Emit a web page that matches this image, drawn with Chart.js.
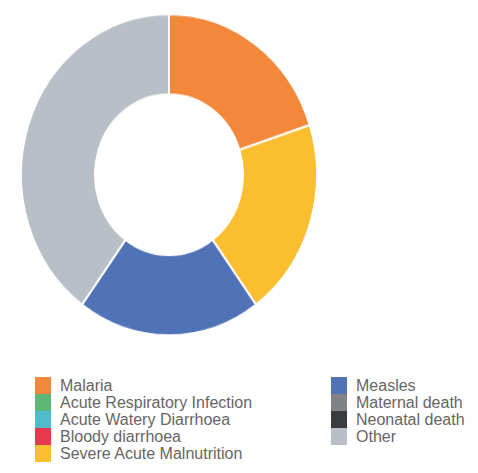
<!DOCTYPE html>
<html>
<head>
<meta charset="utf-8">
<script src="https://cdn.jsdelivr.net/npm/chart.js@4/dist/chart.umd.min.js"></script>
<style>
  html, body { margin: 0; padding: 0; background: #fff; width: 478px; height: 473px; overflow: hidden; }
  #wrap { position: absolute; left: 0; top: 0; width: 338px; height: 322px; transform: scaleY(1.085); transform-origin: 0 0; }
  .legcol { position: absolute; top: 377px; font-family: "Liberation Sans", Arial, sans-serif; font-size: 16px; color: #666; }
  .item { height: 17px; line-height: 17px; white-space: nowrap; position: relative; }
  .box { position: absolute; top: 0; width: 16px; height: 17px; }
  #colL { left: 35px; } #colR { left: 331px; }
  .txt { position: absolute; left: 25px; top: 0; }
</style>
</head>
<body>
<div id="wrap"><canvas id="c"></canvas></div>
<div id="colL" class="legcol"></div>
<div id="colR" class="legcol"></div>
<script>
const categories = ["Malaria", "Acute Respiratory Infection", "Acute Watery Diarrhoea", "Bloody diarrhoea", "Severe Acute Malnutrition", "Measles", "Maternal death", "Neonatal death", "Other"];
const values = [20, 0, 0, 0, 20, 20, 0, 0, 40];
const colors = ["#F4883A", "#5DB878", "#4DBCCB", "#E8384F", "#FBBE2E", "#5073B8", "#808285", "#3A3B3D", "#B8BFC6"];

new Chart(document.getElementById('c'), {
  type: 'doughnut',
  data: {
    labels: categories,
    datasets: [{ data: values, backgroundColor: colors, borderColor: '#ffffff', borderWidth: 2 }]
  },
  options: {
    responsive: true,
    maintainAspectRatio: false,
    animation: false,
    cutout: '50%',
    layout: { padding: { left: 20, right: 20, top: 12, bottom: 12 } },
    plugins: { legend: { display: false }, tooltip: { enabled: false } }
  }
});

// HTML legend built from the same arrays: 5 items left, 4 right
const colL = document.getElementById('colL');
const colR = document.getElementById('colR');
categories.forEach((name, i) => {
  const item = document.createElement('div');
  item.className = 'item';
  const b = document.createElement('span');
  b.className = 'box';
  b.style.background = colors[i];
  const t = document.createElement('span');
  t.className = 'txt';
  t.textContent = name;
  item.appendChild(b); item.appendChild(t);
  (i < 5 ? colL : colR).appendChild(item);
});
</script>
</body>
</html>
